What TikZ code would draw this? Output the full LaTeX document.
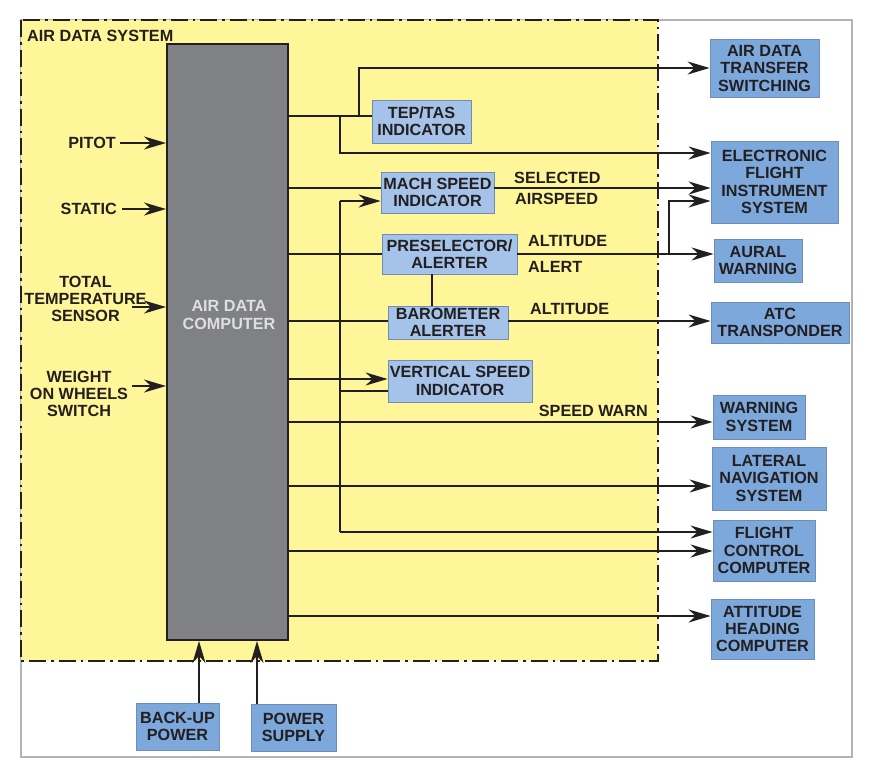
\documentclass[tikz,border=0pt]{standalone}
\usepackage{fontspec}
\setmainfont{Liberation Sans}
\usepackage{tikz}
\usetikzlibrary{positioning,arrows.meta}
\definecolor{ink}{HTML}{231F20}
\definecolor{sysyellow}{HTML}{FFF599}
\definecolor{adcgray}{HTML}{808185}
\definecolor{lightblue}{HTML}{A5C3E8}
\definecolor{midblue}{HTML}{7DA8DC}
\definecolor{blueedge}{HTML}{6F8DB8}
\definecolor{framegray}{HTML}{B4B4B4}
\tikzset{
	lbl/.style={font=\bfseries\fontsize{16.2}{17.2}\selectfont, text=ink, inner sep=0pt, align=center},
	ibox/.style={lbl, draw=blueedge, line width=0.8pt, fill=lightblue},
	obox/.style={lbl, draw=blueedge, line width=0.8pt, fill=midblue},
	wire/.style={draw=ink, line width=2pt},
	arr/.style={wire, -{Stealth[length=22pt,width=13pt,inset=7pt]}},
}

\begin{document}
\begin{tikzpicture}[x=1pt,y=-1pt]
		
		\useasboundingbox (0,0) rectangle (873,779);
		
		\draw[framegray, line width=1.5pt]
		(21,20) rectangle (852,757);
		
		\fill[sysyellow]
		(21,20) rectangle (658,661);
		
		\draw[ink, line width=2pt, dash pattern=on 17pt off 5pt on 2.5pt off 5pt]
		(21,20) rectangle (658,661);
		
		\node[lbl, anchor=west] (sys) at (27,35.5) {AIR DATA SYSTEM};
		
		\node[draw=ink, line width=2pt, fill=adcgray, minimum width=121pt, minimum height=596pt]
		(adc) at (227.5,342) {};
		
		\node[lbl, text=gray!25] (adctxt) at (229,315) {AIR DATA\\COMPUTER};
		
		\node[ibox, minimum width=99pt, minimum height=43pt]
		(tep) at (421.5,121.5) {TEP/TAS\\INDICATOR};
		
		\node[ibox, minimum width=113pt, minimum height=41pt]
		(mach) at (437.5,192.5) {MACH SPEED\\INDICATOR};
		
		\node[ibox, minimum width=135pt, minimum height=40pt]
		(presel) at (449.5,254) {PRESELECTOR/\\ALERTER};
		
		\node[ibox, minimum width=120pt, minimum height=33pt]
		(baro) at (448,322.5) {BAROMETER\\ALERTER};
		
		\node[ibox, minimum width=144pt, minimum height=42pt]
		(vsi) at (460,381) {VERTICAL SPEED\\INDICATOR};
		
		\node[obox, minimum width=109pt, minimum height=58pt]
		(adts) at (764.5,68.5) {AIR DATA\\TRANSFER\\SWITCHING};
		
		\node[obox, minimum width=127pt, minimum height=82pt]
		(efis) at (774.5,182) {ELECTRONIC\\FLIGHT\\INSTRUMENT\\SYSTEM};
		
		\node[obox, minimum width=88pt, minimum height=43pt]
		(aural) at (758,260.5) {AURAL\\WARNING};
		
		\node[obox, minimum width=138pt, minimum height=41pt]
		(atc) at (780,322.5) {ATC\\TRANSPONDER};
		
		\node[obox, minimum width=92pt, minimum height=44pt]
		(warn) at (759,417) {WARNING\\SYSTEM};
		
		\node[obox, minimum width=114pt, minimum height=63pt]
		(lnav) at (769,478.5) {LATERAL\\NAVIGATION\\SYSTEM};
		
		\node[obox, minimum width=102pt, minimum height=61pt]
		(fcc) at (764,550.5) {FLIGHT\\CONTROL\\COMPUTER};
		
		\node[obox, minimum width=103pt, minimum height=60pt]
		(ahc) at (762.5,629) {ATTITUDE\\HEADING\\COMPUTER};
		
		\node[obox, minimum width=83pt, minimum height=47pt]
		(backup) at (177.5,726.5) {BACK-UP\\POWER};
		
		\node[obox, minimum width=85pt, minimum height=47pt]
		(psu) at (293.5,727.5) {POWER\\SUPPLY};
		
		\node[lbl, anchor=east] (pitot) at (116,143) {PITOT};
		\node[lbl, anchor=east] (static) at (117,209) {STATIC};
		\node[lbl] (tts) at (85.5,299) {TOTAL\\TEMPERATURE\\SENSOR};
		\node[lbl] (wow) at (79,394) {WEIGHT\\ON WHEELS\\SWITCH};
		
		\coordinate (ttsout) at (132,307);
		\coordinate (wowout) at (132,386);
		
		\draw[arr]
		([xshift=4pt]pitot.east)
		--
		(adc.west |- pitot.east);
		
		\draw[arr]
		([xshift=5pt]static.east)
		--
		(adc.west |- static.east);
		
		\draw[arr]
		(ttsout)
		--
		(adc.west |- ttsout);
		
		\draw[arr]
		(wowout)
		--
		(adc.west |- wowout);
		
		\coordinate (jtas) at (359,116);
		\coordinate (jefis) at (340,116);
		\coordinate (busT) at (340,201);
		\coordinate (busB) at (340,532);
		\coordinate (jalt) at (669,254);
		
		\draw[wire]
		(adc.east |- jtas)
		--
		(tep.west |- jtas);
		
		\draw[arr]
		(jtas)
		|-
		(adts.west |- 0,68);
		
		\draw[arr]
		(jefis)
		|-
		(efis.west |- 0,153);
		
		\draw[wire]
		(adc.east |- 0,188)
		--
		(mach.west |- 0,188);
		
		\draw[arr]
		(mach.east |- 0,188)
		--
		(efis.west |- 0,188);
		
		\draw[wire]
		(adc.east |- jalt)
		--
		(presel.west |- jalt);
		
		\draw[arr]
		(presel.east |- jalt)
		--
		(aural.west |- jalt);
		
		\draw[arr]
		(jalt)
		|-
		(efis.west |- 0,201);
		
		\draw[wire]
		(presel.south -| 432,0)
		--
		(baro.north -| 432,0);
		
		\draw[wire]
		(adc.east |- 0,321)
		--
		(baro.west |- 0,321);
		
		\draw[arr]
		(baro.east |- 0,321)
		--
		(atc.west |- 0,321);
		
		\draw[arr]
		(adc.east |- 0,379)
		--
		(vsi.west |- 0,379);
		
		\draw[wire]
		(busT)
		--
		(busB);
		
		\draw[arr]
		(busT)
		--
		(mach.west |- busT);
		
		\draw[wire]
		(busT |- 0,391)
		--
		(vsi.west |- 0,391);
		
		\draw[arr]
		(busB)
		--
		(fcc.west |- busB);
		
		\foreach \yy/\dest in {422/warn,486/lnav,551/fcc,616/ahc}
		{
			\draw[arr]
			(adc.east |- 0,\yy)
			--
			(\dest.west |- 0,\yy);
		}
		
		\draw[arr]
		(backup.north -| 199,0)
		--
		(adc.south -| 199,0);
		
		\draw[arr]
		(psu.north -| 257,0)
		--
		(adc.south -| 257,0);
		
		\node[lbl, anchor=west] (sel) at (514,177.5) {SELECTED};
		\node[lbl, anchor=west] (aspd) at (515,199) {AIRSPEED};
		\node[lbl, anchor=west] (alt1) at (528,241) {ALTITUDE};
		\node[lbl, anchor=west] (alert) at (528,267) {ALERT};
		\node[lbl, anchor=west] (alt2) at (530,309) {ALTITUDE};
		\node[lbl, anchor=east] (spdw) at (648,411) {SPEED WARN};
		
	\end{tikzpicture}
\end{document}
